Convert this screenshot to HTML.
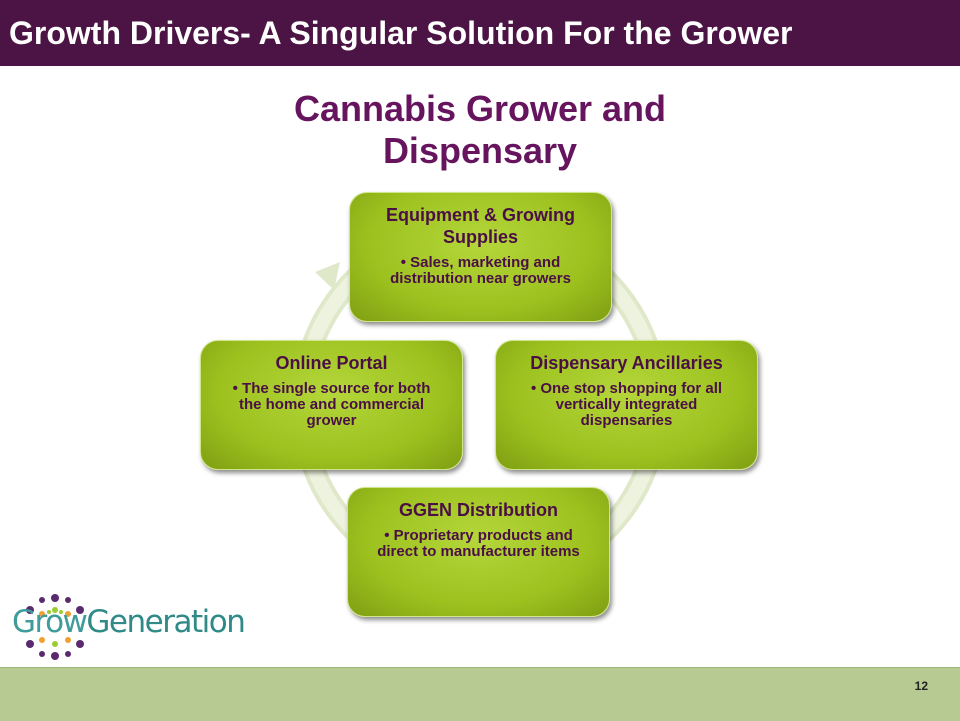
<!DOCTYPE html>
<html><head><style>
body{margin:0;width:960px;height:720px;position:relative;background:#fff;font-family:"Liberation Sans",sans-serif;overflow:hidden}
.hdr{position:absolute;left:0;top:0;width:960px;height:66px;background:#4b1444;color:#fff;font-weight:bold;font-size:32px;line-height:66px;padding-left:9px;box-sizing:border-box}
.title{position:absolute;left:230px;top:88px;width:500px;text-align:center;color:#66145e;font-weight:bold;font-size:36px;line-height:42px}
.box{position:absolute;width:263px;height:130px;border-radius:18px;background:radial-gradient(ellipse at 50% 40%,#b4d63a,#9dc21f 60%,#7f9e12);box-shadow:2px 3px 5px rgba(0,0,0,.45);border:1px solid #cfe68a;box-sizing:border-box;color:#4b0f45;text-align:center;font-weight:bold}
.box h{display:block;font-size:18px;line-height:22px;margin-top:11px}
.box p{margin:7px 22px 0;font-size:15px;line-height:16px}
.foot{position:absolute;left:0;top:667px;width:960px;height:53px;background:#b6ca91;border-top:1px solid #9fb678}
.num{position:absolute;right:32px;top:679px;font-size:12px;font-weight:bold;color:#222}
</style></head><body>
<div class="hdr">Growth Drivers- A Singular Solution For the Grower</div>
<div class="title">Cannabis Grower and<br>Dispensary</div>
<svg style="position:absolute;left:0;top:0" width="960" height="720">
<circle cx="480" cy="405" r="178" fill="none" stroke="#dfe8c8" stroke-width="22"/>
<circle cx="480" cy="405" r="178" fill="none" stroke="#eef3e0" stroke-width="14"/>
<polygon points="315,272 340,262 334,290" fill="#dfe8c8"/>
</svg>
<div class="box" style="left:349px;top:192px"><h>Equipment &amp; Growing<br>Supplies</h><p>• Sales, marketing and distribution near growers</p></div>
<div class="box" style="left:200px;top:340px"><h>Online Portal</h><p>• The single source for both the home and commercial grower</p></div>
<div class="box" style="left:495px;top:340px"><h>Dispensary Ancillaries</h><p>• One stop shopping for all vertically integrated dispensaries</p></div>
<div class="box" style="left:347px;top:487px"><h>GGEN Distribution</h><p>• Proprietary products and direct to manufacturer items</p></div>
<svg style="position:absolute;left:20px;top:592px" width="70" height="70">
<g fill="#5a2a6e"><circle cx="35" cy="6" r="4"/><circle cx="35" cy="64" r="4"/><circle cx="10" cy="18" r="4"/><circle cx="60" cy="18" r="4"/><circle cx="10" cy="52" r="4"/><circle cx="60" cy="52" r="4"/><circle cx="22" cy="8" r="3"/><circle cx="48" cy="8" r="3"/><circle cx="22" cy="62" r="3"/><circle cx="48" cy="62" r="3"/></g>
<g fill="#f0a030"><circle cx="22" cy="22" r="3"/><circle cx="48" cy="22" r="3"/><circle cx="22" cy="48" r="3"/><circle cx="48" cy="48" r="3"/></g>
<g fill="#9acd32"><circle cx="35" cy="18" r="3"/><circle cx="35" cy="52" r="3"/><circle cx="29" cy="20" r="2"/><circle cx="41" cy="20" r="2"/></g>
</svg>
<div style="position:absolute;left:12px;top:604px;font-size:31px;color:#3f9c9a;letter-spacing:-1.5px;font-family:'DejaVu Sans',sans-serif">Grow<span style="color:#2f8a88">Generation</span></div>
<div class="foot"></div>
<div class="num">12</div>
</body></html>
